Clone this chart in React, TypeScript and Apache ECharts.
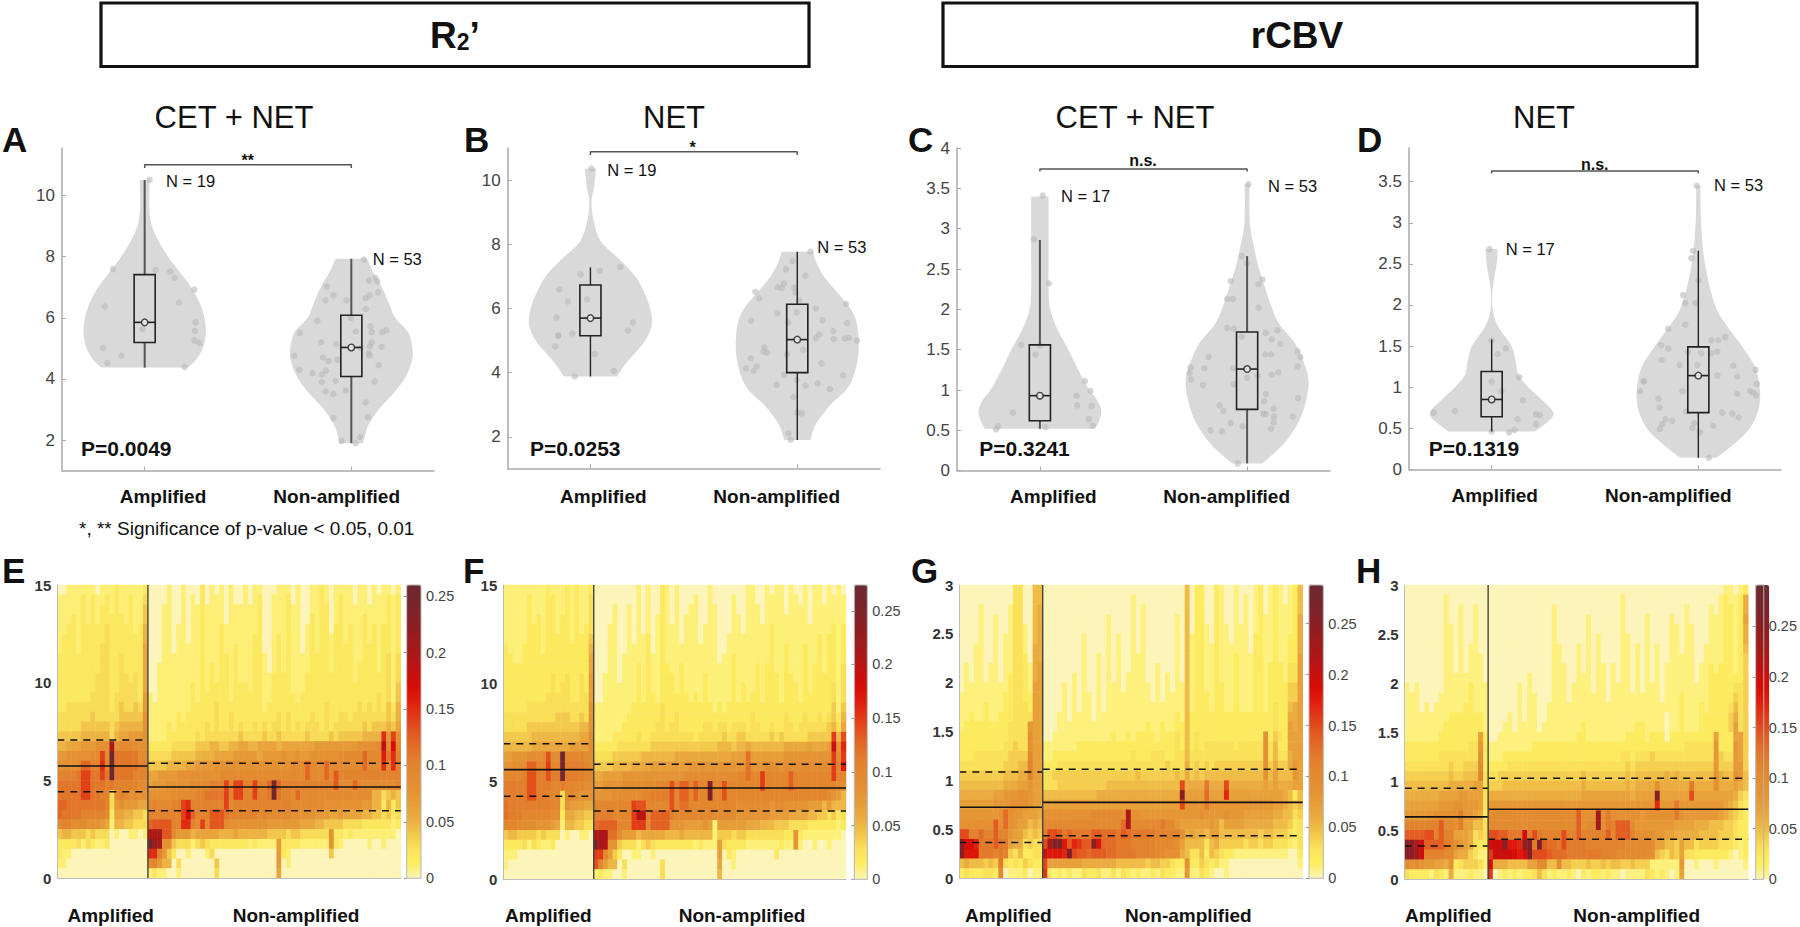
import React, { useEffect, useRef } from "react";
import * as echarts from "echarts";

const FONT = "'Liberation Sans', Arial, sans-serif";

// Group labels
const groupLabels = ["Amplified", "Non-amplified"];
const violinTitles = ["CET + NET", "NET", "CET + NET", "NET"];
const pValues = ["P=0.0049", "P=0.0253", "P=0.3241", "P=0.1319"];
const brackets = ["**", "*", "n.s.", "n.s."];
const nLabels = [["N = 19", "N = 53"], ["N = 19", "N = 53"], ["N = 17", "N = 53"], ["N = 17", "N = 53"]];

// Violin outlines: [value, half width in axis units]
const outlineAAmp = [[4.37,.209],[4.6,.245],[5,.281],[5.5,.296],[6,.289],[6.5,.265],[7,.225],[7.5,.169],[8,.113],[8.5,.068],[9,.035],[9.5,.023],[10,.022],[10.5,.024]];
const outlineANon = [[1.9,.056],[2.2,.068],[2.5,.084],[3,.132],[3.5,.2],[4,.257],[4.5,.289],[4.9,.297],[5.5,.277],[6,.212],[6.5,.18],[7,.148],[7.5,.105],[7.93,.076]];
const outlineBAmp = [[3.88,.129],[4.2,.161],[4.5,.2],[5,.265],[5.5,.297],[6,.289],[6.5,.26],[7,.217],[7.5,.145],[8,.061],[8.3,.035],[8.5,.024],[9,.008],[9.4,.006],[9.8,.018],[10.35,.027]];
const outlineBNon = [[1.9,.064],[2.2,.077],[2.5,.1],[3,.161],[3.5,.241],[4,.277],[4.7,.297],[5.5,.289],[6,.257],[6.5,.193],[7,.129],[7.5,.088],[7.77,.077]];
const outlineCAmp = [[.52,.265],[.6,.283],[.75,.296],[.9,.27],[1,.238],[1.25,.185],[1.5,.138],[1.75,.085],[2,.05],[2.25,.042],[2.75,.042],[3.4,.042]];
const outlineCNon = [[.09,.072],[.15,.1],[.3,.165],[.5,.225],[.75,.272],[1.1,.297],[1.4,.265],[1.6,.225],[1.8,.16],[2,.122],[2.5,.058],[2.75,.035],[3,.016],[3.25,.011],[3.55,.012]];
const outlineDAmp = [[.46,.209],[.6,.281],[.7,.297],[.85,.241],[1,.177],[1.15,.129],[1.3,.117],[1.5,.096],[1.7,.04],[1.85,.013],[2,.003],[2.2,.005],[2.5,.024],[2.68,.029]];
const outlineDNon = [[.14,.088],[.3,.169],[.5,.249],[.75,.293],[1,.297],[1.25,.273],[1.5,.21],[1.75,.137],[2,.08],[2.5,.032],[3,.013],[3.45,.01]];

// Patient points: [horizontal jitter, value]
const pointsAAmp = [[-.153,7.59],[.053,7.56],[.124,7.51],[.145,7.3],[.241,6.92],[.166,6.5],[-.193,6.37],[.246,5.85],[-.011,5.63],[.243,5.57],[.241,5.26],[.265,5.17],[-.201,5.01],[-.113,4.76],[-.18,4.52],[.193,4.39],[.024,10.51],[0,5.85]];
const pointsANon = [[.061,7.9],[.085,7.22],[.117,7.3],[.125,7.19],[-.119,7.02],[-.087,6.73],[-.125,6.57],[-.023,6.57],[.069,6.64],[.088,6.73],[.129,6.83],[.069,6.29],[-.164,5.9],[-.003,5.99],[.093,5.72],[.098,5.53],[.021,5.55],[-.248,5.5],[.15,5.53],[.17,5.59],[-.146,5.2],[-.072,5.14],[.098,5.19],[.09,5.06],[.045,5.01],[.146,5.05],[.085,4.84],[.088,4.77],[-.275,4.76],[-.137,4.7],[-.111,4.59],[-.068,4.63],[-.252,4.3],[-.188,4.19],[.133,4.45],[-.124,4.27],[-.143,4.14],[-.143,3.9],[-.076,3.94],[.113,3.92],[-.124,3.59],[-.087,3.51],[-.027,3.62],[.069,3.23],[-.087,2.72],[.08,2.75],[.042,2.1],[-.047,1.97],[.021,1.9]];
const pointsBAmp = [[.005,10.36],[-.048,7.06],[.045,7.17],[.145,7.29],[-.151,6.59],[-.016,6.28],[-.109,6.22],[-.164,5.72],[.206,5.56],[.182,5.31],[-.087,5.22],[-.156,5.16],[-.156,5.15],[-.17,4.82],[.021,4.58],[.113,4.05],[-.076,3.88],[0,5.7]];
const pointsBNon = [[.064,7.77],[-.023,7.48],[-.055,7.22],[.039,7.02],[-.064,6.78],[-.095,6.66],[-.076,6.64],[-.014,6.65],[-.008,6.5],[-.203,6.52],[-.185,6.32],[.008,6.26],[.235,6.14],[.09,6],[-.003,5.88],[-.096,5.85],[-.223,5.62],[-.043,5.56],[.122,5.63],[.241,5.54],[.174,5.29],[.106,5.19],[.09,5.07],[.177,5.05],[.23,5.06],[.251,5.08],[.289,5],[-.159,4.79],[-.162,4.65],[-.145,4.62],[-.05,4.57],[.029,4.71],[-.225,4.45],[-.196,4.19],[-.248,4.13],[-.212,4.05],[.117,4.29],[-.064,3.93],[.222,3.92],[-.003,3.77],[-.1,3.62],[.04,3.6],[.098,3.67],[.158,3.49],[-.019,3.24],[0,2.76],[.021,2.73],[-.043,2.11],[-.032,1.91]];
const pointsCAmp = [[.014,3.41],[-.029,2.87],[.043,2.32],[-.09,1.56],[0,1.55],[-.021,1.44],[.217,1.11],[.244,.99],[.177,.93],[.18,.81],[.249,.8],[-.13,.72],[.236,.64],[.255,.56],[.027,.54],[-.202,.55],[-.212,.51]];
const pointsCNon = [[.006,3.55],[-.026,2.66],[0,2.57],[.074,2.37],[-.079,2.35],[.055,2.31],[-.096,2.13],[-.069,2.13],[.056,2.02],[-.096,1.77],[-.064,1.76],[.09,1.71],[.146,1.74],[-.026,1.66],[.119,1.63],[.161,1.57],[.244,1.48],[-.186,1.41],[.087,1.44],[.116,1.44],[.257,1.41],[-.273,1.28],[-.207,1.27],[-.069,1.27],[.244,1.29],[-.278,1.21],[.151,1.22],[.119,1.19],[.051,1.18],[0,1.15],[-.27,1.13],[-.213,1.06],[-.064,1.07],[.09,.95],[.246,.9],[.082,.86],[-.133,.81],[-.114,.74],[.128,.77],[.079,.71],[.09,.7],[.13,.67],[.22,.67],[.128,.6],[-.079,.59],[-.022,.55],[-.177,.5],[-.122,.49],[.116,.52],[-.045,.09]];
const pointsDAmp = [[-.011,2.68],[0,1.57],[.029,1.4],[.069,1.47],[.133,1.12],[0,1.07],[.047,.95],[.151,.84],[-.281,.69],[-.178,.71],[.214,.67],[.232,.66],[.125,.61],[.215,.55],[.111,.48],[.085,.45],[0,.46]];
const pointsDNon = [[-.008,3.45],[-.026,2.66],[-.034,2.57],[0,2.3],[-.074,2.12],[-.064,2.02],[-.014,2.02],[-.063,1.76],[-.146,1.71],[.13,1.61],[.063,1.57],[.096,1.57],[-.18,1.51],[-.145,1.47],[-.05,1.43],[.014,1.41],[.063,1.41],[.092,1.43],[-.178,1.33],[-.09,1.27],[-.005,1.27],[.169,1.26],[.277,1.21],[.092,1.14],[.188,1.13],[-.265,1.07],[-.263,1.07],[.283,1.04],[-.281,.95],[-.077,.95],[.188,.92],[.251,.95],[.267,.93],[.28,.9],[-.193,.86],[-.188,.75],[-.058,.7],[.116,.69],[.164,.68],[.196,.63],[-.159,.61],[-.127,.59],[-.174,.55],[-.021,.56],[.072,.53],[-.029,.5],[-.186,.49],[.008,.45],[.051,.14]];

// Box statistics: [low whisker, q1, median, q3, high whisker]
const boxAAmp = [4.37, 5.19, 5.85, 7.41, 10.5];
const boxANon = [1.9, 4.08, 5.03, 6.08, 7.93];
const boxBAmp = [3.88, 5.15, 5.7, 6.73, 7.28];
const boxBNon = [1.9, 4.0, 5.03, 6.13, 7.77];
const boxCAmp = [.52, .62, .93, 1.56, 2.86];
const boxCNon = [.09, .76, 1.26, 1.72, 2.66];
const boxDAmp = [.46, .64, .85, 1.19, 1.58];
const boxDNon = [.14, .69, 1.14, 1.49, 2.66];

// Axis ticks
const ticksA = [2, 4, 6, 8, 10];
const ticksC = [0, .5, 1, 1.5, 2, 2.5, 3, 3.5, 4];
const ticksD = [0, .5, 1, 1.5, 2, 2.5, 3, 3.5];
const ticksHeatR2 = [0, 5, 10, 15];
const ticksHeatCBV = [0, .5, 1, 1.5, 2, 2.5, 3];
const ticksColorbar = [0, .05, .1, .15, .2, .25];
const colorbarMax = [.26, .274, .288, .291];
const bracketLevels = [11.0, 10.88, 3.74, 3.63];
const bracketDrop = [.1, .1, .03, .03];

// Reference lines of the heat maps: [q3, median, q1] for each group
const linesE = [[7.07, 5.74, 4.43], [5.88, 4.67, 3.46]];
const linesF = [[6.91, 5.59, 4.23], [5.86, 4.65, 3.48]];
const linesG = [[1.088, .726, .365], [1.115, .777, .436]];
const linesH = [[.929, .636, .34], [1.03, .714, .408]];

const heatColors = ["#fcf4b8","#fdee62","#fae35a","#f3c84c","#ebae41","#e79e39","#e49234","#e38a30","#e2802d","#e26c27","#e2561f","#e13a17","#e0200e","#da0c06","#c61010","#b01616","#a01a1c","#8e1e22","#802228","#74262c","#6c2a30"];

// Heat map cells, top row first; each character is the value x 100 in base 36.
const heatE = [
"0011111101112111112 0000100100 0201010100 1011000111 0100112101 1110110101101",
"1111121211212112113 0000100101 0201110100 1012001112 0100112101 2110110111212",
"1111121212212112114 0001100101 1211110111 1112001112 1100112201 2111111111212",
"1112121212222212114 0001100101 1211110111 1112001112 1100212201 2111121111212",
"1122122222322222125 0001101101 1211121111 1112001112 1101212202 2121121212212",
"1222122222322222225 0001101101 1211121111 1122001212 1101212212 2121121212212",
"1222122223322222226 0001101111 1211121121 1122001212 1101212212 2221122212212",
"2222222223322322226 0001111111 1211122121 1122101212 1111222212 2221122212313",
"2222222223322322226 0011111111 1212122121 1122101212 1111222212 2221222212313",
"2222222233322332326 0011111111 1212122121 1122112222 1112222222 2221222222313",
"2222222233322333326 0011111112 1212222122 2122112222 1112222222 2222222222314",
"2222222333323333327 1011111112 1222222122 2222112222 2122222222 2222222232314",
"2233333333323433437 1111111112 2222322222 2222122222 2222222322 2222323232425",
"3333333433333444448 1111112122 2222322322 2222222323 2222322322 3323333333435",
"3333344444434555558 1111212222 2232322323 2232323323 2323332323 3333343444546",
"4444455555535667778 1111222222 3233333334 3333433433 3334333343 444445555f7e8",
"55666777888k8999988 2222233333 4445544556 6556666566 6666677777 777788889j9h9",
"778888899e9pbbbbb99 3333344444 5555666677 7776777787 7877888888 99999c999gbfa",
"88889ccaafaqbbbbbaa 4444555566 7777888888 8888888888 999c999c99 99999c999f9fa",
"aaaabeebbebqbbbbaaa 6677778888 8888899999 9999999999 999c999c9d aaaaaaaaaaaaa",
"bbbbbeebbbabaaaaa99 6777888889 999aaaeaee aaeaacpcaa aaaaaaaaad 999c99999999a",
"bbbbbeebbaa39a98988 8888899999 aabbbbeaee aaeaabpbaa 9c99999999 9998999553454",
"ccbbbbbbbba37877766 9a999aaefa aaaaaae9aa aaaaaaaaaa 9999999888 8888877552524",
"cbbbbaaaaa926655443 aaaaaaaehc aaadddbaaa aaa9a99999 8888877766 7666655443423",
"9aa99988876155443 33 cddddaaffa 9e9ddd9888 8888877777 7766655444 4333322222212",
"45544434333 01001101 jkkdd97775 6666655565 5555544443 4433333382 2121111111110",
"22223132112 00000000 plk8843331 3432222222 2121111722 2211111182 1000001001000",
"2110000000000000000 ffa7420010 0013000000 0000000721 0000000040 0000000000000",
"1100000000000000000 9a75503000 0000400000 0000000701 0000000000 0000000000000",
"0000000000000000000 1211001000 0000300000 0000000600 0000000000 0000000000000",
];
const heatF = [
"1111111112 111212112 0000000001 0100210100 0000100000 0011001011 0100101101010",
"1111121112 211212113 0000000001 0100210100 0100100001 0011001111 0110101101111",
"1111121112 211212113 0000100101 0100210100 1100110001 0011101111 0111101111111",
"1111121212 212212113 0000100101 0101210101 1100110001 1011101111 1111101111111",
"1111122212 212212123 0001100101 0101211101 1101110001 1011111211 1111111111212",
"1111122212 222212224 0001100101 1201211101 1101110011 1111111211 1111111212212",
"2111222212 222222225 0001100111 1201211111 1111110011 1111111211 2111211212212",
"2211222222 222222226 0001101111 1211211111 1111110112 1111111211 2111211212212",
"2222222222 222222226 0001101112 1211221121 1111111112 1111212211 2111212212213",
"2222222222 322322327 0011101112 1211222121 1112111112 1111212221 2211212222213",
"2222222222 323322327 0011111112 1211222121 1112111112 1211212221 2221212222313",
"2222222223 333322337 0011111112 1221222222 1212111112 1212212221 2221222222313",
"2222233333 333333338 1111111122 2222322222 2222212122 2222222222 2222222222414",
"3333333333 344433438 1111111222 2222322322 2222222222 2223222222 3222322323425",
"3333344444 444444558 1111112222 2223323322 2223323323 3323322322 3323333334536",
"4444445555 555555669 1111222223 2233333333 3233333433 4433333434 3333344444f5e",
"5555556666 666677779 2222233333 3344444444 4444445554 5565555555 6666676667j8g",
"778889999e99qaaaa99 3333444444 5555555666 6666666667 77c7777777 8888888888f9f",
"88999ddaafaaqbbbba9 4444555566 6677777777 8888888888 88c8889998 9999999999fah",
"aaaabeebbebbqbbbbaa 6677778888 8888888889 9999999999 aacaafaaaa adaaaaaaaafaa",
"bbbbbeebbbaabaaaa99 7788889999 999aaaeadd adaapaaeaa aaaaafaaaa adaaaaaaaaa99",
"bbbbbeebbaaa39a9888 8888999999 aabbbbeadd adaapaaeaa aaaaaaaaaa aaaaaaaaa9875",
"cbbbbbbbbbaa3877766 aaaaaaaafe eaaaaaeacc aaaaaaaaaa 9999999899 8888877757555",
"cbbbaaaaaa992665544 bbbbaaaafk kaddddbaaa aaa9a99999 8888888777 7666655443423",
"aaa999988876155 4433 cddddaaaff f9dddd8887 7778717777 7766655544 4333322222212",
"455444434333 0100110 kllcc97775 6666655565 5555514443 4433333333 2282111111110",
"2222313211 200000000 plk8843331 3432222222 2121117322 2211111112 1181001001000",
"1110000000 000000000 ffa7420011 0010000000 0000007021 0000000020 0000000000000",
"1000000000 000000000 ea75503000 0000300000 0000006001 0000000000 0000000000000",
"0000000000 000000000 1211001000 0000300000 0000005000 0000000000 0000000000000",
];
const heatG = [
"0000000000 0330055 0000000000 0000000000 0000000005 0220021001 0001201210125",
"0000000000 0330055 0000000000 0000000010 0000000005 0220021001 0101201210125",
"0000100000 1330056 0000000000 0000000010 1000000005 0220021001 0101201211125",
"0000100100 1330056 0000000000 0001000010 1000000105 0220021001 0101211211126",
"0000100100 1331056 0000000000 0001000010 1000000105 0221021101 1101211211126",
"0000100101 1331056 0000000010 0001010010 1000000105 1221021101 1102211211226",
"0001100101 1331066 0000000010 0001010010 1000000105 1221121111 1102211211226",
"0001100101 1332066 0000000010 0101010011 1000000105 1221121112 1112211211227",
"0101101101 1332167 0000000010 0101010011 1001000105 1221121112 1112212221337",
"0101101101 2332167 0000001010 0101010111 1001010105 1221121112 1112212221337",
"0111111111 2332177 0000101010 0101110111 1101010115 1221122112 1112212222447",
"1111111112 2332277 0000101011 0101111111 1101011115 1222122112 1112212222447",
"1111121112 2333277 0000101011 0101111111 1111111115 1222122112 1112212322567",
"1121121122 2333377 0001101111 0111111111 1111111215 2222222222 2222222322667",
"1222222222 3333877 0001111111 1111111111 1211211225 2222222222 2222222322767",
"2222222222 3333977 0011111111 1111211212 2221222325 2322222222 2222292432777",
"2222222223 3433977 1111111222 2222222222 2222222325 2323333332 3333393522777",
"2223333333 4444a77 1122222222 2222222232 2233322335 3333333333 3333393533677",
"3333333334 4455b77 2223333333 3333333333 3333343336 3434344444 4444494644687",
"4444444445 5566b77 3344444444 4444444445 4444444546 4545555555 5555595755587",
"5555555556 6677877 3334444444 4445555555 55555555f6 666c666f66 6666676766677",
"6666666778 8899877 5555555555 5666666666 66666666p7 777d777h77 7777777776525",
"7777777888 9999877 7777777777 7777777777 77777777f8 888c888888 8888888776545",
"888888889d 9887776 9999999999 aaaaaa9m99 8888888888 8898888988 8777777665534",
"9999999e9d 9877565 aaaaaaaaaa aaaaaadmaa aaaacaa877 7777875777 7666666555423",
"ffbbdbbebb 8775454 cffecdcccc eedddcedcc cccbbbbb96 7665775555 5555455444323",
"pjjhcccecc 7663433 fmqqiehgee pidddcccbb bbbaaaa975 5553564444 4344344333213",
"piiicccbcb 4352233 kiiihqfeed eeeddccccb bbbaa99965 3352543221 1111111111002",
"5655545 4c3 2324322 f777777766 6666655555 5455443229 2243231100 0000000000001",
"23222332a0 1112011 g212121132 2311313212 1121322118 1132100100 0000000000000",
];
const heatH = [
"0000000000 0000000 0000000000 0000000000 0000000000 0000000000 0000000011012",
"0000000010 0000000 0000000000 0000000000 0000000100 0000000000 0000000121126",
"0000000010 0100100 0000000000 0001000000 0000000100 0000000000 1000010122126",
"0000000010 0100100 0000000000 0001000000 1000000100 0010000100 1000011122127",
"0000000011 0100100 0000000000 0001000000 1000000100 0010000110 1100011122126",
"0000000011 0100100 0000000000 0001000000 1010000110 0010000110 1100011122126",
"0000000011 0101100 0000000000 0001100010 1010000110 1010100110 1100111122125",
"0000000011 0101110 0000000000 0001100010 1010000110 1010100111 1100111122124",
"0000000011 0101110 0000000000 0001110010 1011010110 1010101111 1101121222124",
"0000000011 1111110 0000000010 0001110011 1011010110 1010101111 1101122222224",
"1010000011 1112111 0000001010 0001110111 1011011110 1011101111 1111122222334",
"1110000111 1112111 0000001011 0001110111 1111011111 1111101112 1111122222434",
"1110101111 1122111 0000001011 0011111111 1111111111 1111111112 1112122223534",
"1111111112 2222221 0000101011 0011111111 1111111111 1111110112 1112222224634",
"1111111122 2222221 0001101111 0111111112 1111111111 2211110112 1112222224734",
"1111111222 2222272 0011111111 1111111122 1111111122 2212220222 2222227222774",
"2222222222 2223382 1111111112 2222222222 2222222222 2222222222 3333338222874",
"2222222333 3333392 1112222222 2222222222 2222222332 3334333333 3333338433874",
"3333333334 33444a2 2222333333 3333333333 3333333343 4444444444 4444448444884",
"4444444445 44555b3 3344444444 4444444445 4444444454 5555556565 5555559655985",
"5555555556 6666773 4445555555 5555555556 5555555565 6666966666 6c66669666765",
"6666666777 7887773 6666666666 6666666667 7777777776 7777q77777 7f77777777643",
"7777777888 9988873 8888888888 8888888888 8888888888 8888h888c8 8888888876532",
"8888889999 9c88762 aaaaaaaaaa aaaaaaaae9 99n9c99999 98999999c9 8888888765432",
"bbbbbbbeaa 9c77553 aaaaaaaaaa aaaaaaaae9 aan9cbeeea 8888888877 7766655544322",
"eeeeffbebb 7776343 ffeeccckcf cbbbbfbbeb bbbbeaeeeb 9999887766 6665555444322",
"ppmkeeeecb 9876322 jkkqiihoqc qeddcfcccc bbbbbbbbaa aaaa775547 5534444333212",
"ppnkbbbbaa 7664311 gkkkkjijqf ffedddcccc cccbbbaaaa aaa9543547 3322222221012",
"a9a9887769 2344431 j666555577 aa55a55444 5445455445 4441111118 0010001000001",
"3222213216 1112110 g012121223 5312112102 1221211011 1132121017 0000000000000",
];

const AXIS_GREY = "#a9a9a9";
const VIOLIN_FILL = "#d9d9d9";
const DOT = "rgba(185,185,185,0.75)";
const BOX_HALF = 0.051;

type V = {
  grid: number[]; yMin: number; yMax: number; ticks: number[]; outlines: number[][][];
  points: number[][][]; boxes: number[][]; whisker: string; whiskerW: number;
};

const violinPanels: V[] = [
  { grid: [62, 148, 372, 322.7], yMin: 1, yMax: 11.55, ticks: ticksA, outlines: [outlineAAmp, outlineANon], points: [pointsAAmp, pointsANon], boxes: [boxAAmp, boxANon], whisker: "#555", whiskerW: 2 },
  { grid: [507.7, 148, 372.3, 320.3], yMin: 1.02, yMax: 11, ticks: ticksA, outlines: [outlineBAmp, outlineBNon], points: [pointsBAmp, pointsBNon], boxes: [boxBAmp, boxBNon], whisker: "#222", whiskerW: 1.4 },
  { grid: [957, 148, 373, 322.7], yMin: 0, yMax: 4, ticks: ticksC, outlines: [outlineCAmp, outlineCNon], points: [pointsCAmp, pointsCNon], boxes: [boxCAmp, boxCNon], whisker: "#555", whiskerW: 2 },
  { grid: [1409, 148, 372, 321.3], yMin: 0, yMax: 3.91, ticks: ticksD, outlines: [outlineDAmp, outlineDNon], points: [pointsDAmp, pointsDNon], boxes: [boxDAmp, boxDNon], whisker: "#222", whiskerW: 1.4 },
];

const heatPanels = [
  { grid: [57.3, 585, 343.4, 293.3], bar: [406.7, 14.3], rows: heatE, split: 19, cols: 72, yMax: 15, ticks: ticksHeatR2, lines: linesE },
  { grid: [503.3, 585, 342.7, 294.3], bar: [854.3, 13], rows: heatF, split: 19, cols: 72, yMax: 15, ticks: ticksHeatR2, lines: linesF },
  { grid: [959.3, 585, 343.4, 293.3], bar: [1309, 14.3], rows: heatG, split: 17, cols: 70, yMax: 3, ticks: ticksHeatCBV, lines: linesG },
  { grid: [1404.7, 585, 343.6, 294.3], bar: [1755.7, 13.6], rows: heatH, split: 17, cols: 70, yMax: 3, ticks: ticksHeatCBV, lines: linesH },
];

const textAt = (text: string, x: number, y: number, size: number, opts: any = {}) => ({
  type: "text", x, y, silent: true, z: 20,
  style: { text, fontFamily: FONT, fontSize: size, fontWeight: opts.weight || "normal", fill: opts.fill || "#111", align: opts.align || "center", verticalAlign: "middle" },
});

// Rounds one side of a violin on screen, leaving its flat ends sharp.
function roundSide(pts: number[][]) {
  const out: number[][] = [];
  for (let i = 0; i < pts.length - 1; i++) {
    const p0 = pts[Math.max(0, i - 1)], p1 = pts[i], p2 = pts[i + 1], p3 = pts[Math.min(pts.length - 1, i + 2)];
    for (let s = 0; s < 6; s++) {
      const t = s / 6, t2 = t * t, t3 = t2 * t;
      out.push([0, 1].map((d) => 0.5 * (2 * p1[d] + (p2[d] - p0[d]) * t + (2 * p0[d] - 5 * p1[d] + 4 * p2[d] - p3[d]) * t2 + (3 * p1[d] - p0[d] - 3 * p2[d] + p3[d]) * t3)));
    }
  }
  out.push(pts[pts.length - 1]);
  return out;
}

function buildOption() {
  const grid: any[] = [], xAxis: any[] = [], yAxis: any[] = [], series: any[] = [], visualMap: any[] = [];

  violinPanels.forEach((p, i) => {
    const g = grid.length, xi = xAxis.length, yi = yAxis.length;
    grid.push({ left: p.grid[0], top: p.grid[1], width: p.grid[2], height: p.grid[3], containLabel: false });
    const line = { show: true, lineStyle: { color: AXIS_GREY, width: 1.5 } };
    xAxis.push({ type: "value", gridIndex: g, min: 0.6, max: 2.4, position: "bottom", splitLine: { show: false }, axisLine: line,
      axisTick: { show: true, inside: true, length: 4, customValues: [1, 2], lineStyle: { color: AXIS_GREY } }, axisLabel: { show: false } });
    yAxis.push({ type: "value", gridIndex: g, min: p.yMin, max: p.yMax, position: "left", splitLine: { show: false }, axisLine: line,
      axisTick: { show: true, inside: true, length: 4, customValues: p.ticks, lineStyle: { color: AXIS_GREY } },
      axisLabel: { show: true, customValues: p.ticks, fontFamily: FONT, fontSize: 17, color: "#444", margin: 7 } });
    [0, 1].forEach((k) => {
      const center = k + 1;
      const outline = p.outlines[k];
      const box = p.boxes[k];
      series.push({
        type: "custom", coordinateSystem: "cartesian2d", xAxisIndex: xi, yAxisIndex: yi, silent: true, clip: false, z: 1,
        data: [[center, outline[0][0]]],
        renderItem: (_: any, api: any) => {
          const left = roundSide(outline.map(([y, w]) => api.coord([center - w, y])));
          const right = roundSide(outline.map(([y, w]) => api.coord([center + w, y]))).reverse();
          return { type: "polygon", shape: { points: [...left, ...right] }, style: { fill: VIOLIN_FILL } };
        },
      });
      series.push({
        type: "scatter", xAxisIndex: xi, yAxisIndex: yi, silent: true, z: 2, symbolSize: 6.5, clip: false,
        data: p.points[k].map(([dx, y]) => [center + dx, y]), itemStyle: { color: DOT },
      });
      series.push({
        type: "custom", coordinateSystem: "cartesian2d", xAxisIndex: xi, yAxisIndex: yi, silent: true, clip: false, z: 3,
        data: [[center, box[2]]],
        renderItem: (_: any, api: any) => {
          const [lo, q1, med, q3, hi] = box;
          const c = (x: number, y: number) => api.coord([x, y]);
          const seg = (a: number[], b: number[], color: string, lineWidth: number) => ({ type: "line", shape: { x1: a[0], y1: a[1], x2: b[0], y2: b[1] }, style: { stroke: color, lineWidth } });
          const tl = c(center - BOX_HALF, q3), br = c(center + BOX_HALF, q1);
          return { type: "group", children: [
            seg(c(center, lo), c(center, q1), p.whisker, p.whiskerW),
            seg(c(center, q3), c(center, hi), p.whisker, p.whiskerW),
            { type: "rect", shape: { x: tl[0], y: tl[1], width: br[0] - tl[0], height: br[1] - tl[1] }, style: { fill: "none", stroke: "#222", lineWidth: 1.6 } },
            seg(c(center - BOX_HALF, med), c(center + BOX_HALF, med), "#222", 1.6),
          ] };
        },
      });
      series.push({
        type: "scatter", xAxisIndex: xi, yAxisIndex: yi, silent: true, z: 4, symbolSize: 6.5,
        data: [[center, box[2]]], itemStyle: { color: "#fff", borderColor: "#222", borderWidth: 1.5 },
      });
    });
    const lvl = bracketLevels[i], drop = bracketDrop[i];
    series.push({
      type: "line", xAxisIndex: xi, yAxisIndex: yi, silent: true, z: 5, symbol: "none", clip: false,
      data: [[1, lvl - drop], [1, lvl], [2, lvl], [2, lvl - drop]], lineStyle: { color: "#555", width: 1.5 },
    });
  });

  heatPanels.forEach((p, i) => {
    const g = grid.length;
    const xCat = xAxis.length, yCat = yAxis.length;
    grid.push({ left: p.grid[0], top: p.grid[1], width: p.grid[2], height: p.grid[3], containLabel: false });
    const nRows = p.rows.length;
    xAxis.push({ type: "category", gridIndex: g, show: false, position: "bottom", data: Array.from({ length: p.cols }, (_, c) => String(c)) });
    yAxis.push({ type: "category", gridIndex: g, show: false, position: "left", data: Array.from({ length: nRows }, (_, r) => String(r)) });
    const border = { show: true, lineStyle: { color: "#bdbdbd", width: 1 } };
    xAxis.push({ type: "value", gridIndex: g, position: "bottom", min: 0, max: p.cols, splitLine: { show: false }, axisLine: border, axisTick: { show: false }, axisLabel: { show: false }, z: 6 });
    yAxis.push({ type: "value", gridIndex: g, position: "left", min: 0, max: p.yMax, splitLine: { show: false }, axisLine: border, axisTick: { show: false },
      axisLabel: { show: true, customValues: p.ticks, fontFamily: FONT, fontSize: 15, fontWeight: "bold", color: "#333", margin: 6 }, z: 6 });

    const cells: number[][] = [];
    p.rows.forEach((row, rowIdx) => {
      const chars = row.replace(/\s/g, "");
      for (let c = 0; c < p.cols; c++) {
        const ch = chars[c] ?? "0";
        cells.push([c, nRows - 1 - rowIdx, parseInt(ch, 36) / 100]);
      }
    });
    const sIdx = series.length;
    series.push({ type: "heatmap", xAxisIndex: xCat, yAxisIndex: yCat, silent: true, progressive: 0, z: 2, data: cells, itemStyle: { borderWidth: 0 } });
    visualMap.push({
      type: "continuous", seriesIndex: sIdx, dimension: 2, min: 0, max: colorbarMax[i], show: true, calculable: false, hoverLink: false, realtime: false,
      left: p.bar[0], top: p.grid[1], itemWidth: p.bar[1], itemHeight: p.grid[3], padding: 0, inRange: { color: heatColors },
    });

    const xV = xCat + 1, yV = yCat + 1;
    const addLine = (a: number, b: number, y: number, dashed: boolean) => series.push({
      type: "line", xAxisIndex: xV, yAxisIndex: yV, silent: true, z: 5, symbol: "none",
      data: [[a, y], [b, y]], lineStyle: { color: "#111", width: dashed ? 1.5 : 1.6, type: dashed ? [7, 6] : "solid" },
    });
    [[0, p.split], [p.split, p.cols]].forEach(([a, b], k) => {
      const [hi, med, lo] = p.lines[k];
      addLine(a, b, hi, true); addLine(a, b, med, false); addLine(a, b, lo, true);
    });
    series.push({ type: "line", xAxisIndex: xV, yAxisIndex: yV, silent: true, z: 5, symbol: "none",
      data: [[p.split, 0], [p.split, p.yMax]], lineStyle: { color: "#444", width: 1.4 } });

    // Colour bar scale
    const gb = grid.length;
    grid.push({ left: p.bar[0], top: p.grid[1], width: p.bar[1], height: p.grid[3], containLabel: false, show: true, borderColor: "#b5b5b5", borderWidth: 1, backgroundColor: "transparent", z: 6 });
    xAxis.push({ type: "value", gridIndex: gb, show: false, min: 0, max: 1 });
    yAxis.push({ type: "value", gridIndex: gb, position: "right", min: 0, max: colorbarMax[i], splitLine: { show: false }, z: 6,
      axisLine: { show: false },
      axisTick: { show: true, inside: true, length: 3, customValues: ticksColorbar, lineStyle: { color: "#999" } },
      axisLabel: { show: true, customValues: ticksColorbar, fontFamily: FONT, fontSize: 14.5, color: "#444", margin: 5, formatter: (v: number) => String(v) } });
  });

  const BOLD = { weight: "bold" };
  const graphic: any[] = [
    { type: "rect", shape: { x: 101, y: 3, width: 708, height: 63.5 }, style: { fill: "#fff", stroke: "#111", lineWidth: 3.2 }, silent: true },
    { type: "rect", shape: { x: 943, y: 3, width: 754, height: 63.5 }, style: { fill: "#fff", stroke: "#111", lineWidth: 3.2 }, silent: true },
    { type: "text", x: 455, y: 35, silent: true, z: 20, style: {
      text: "{a|R}{b|2}{a|’}", align: "center", verticalAlign: "middle",
      rich: { a: { fontFamily: FONT, fontSize: 37, fontWeight: "bold", fill: "#111" }, b: { fontFamily: FONT, fontSize: 23, fontWeight: "bold", fill: "#111", padding: [14, 0, 0, 0] } },
    } },
    textAt("rCBV", 1297, 35, 37, BOLD),
    textAt("*, ** Significance of p-value < 0.05, 0.01", 79, 528, 19, { align: "left" }),
  ];
  const titleX = [234, 674, 1135, 1544];
  const letterX = [2, 464, 908, 1357];
  const pX = [81, 530, 979.3, 1428.7];
  const ampX = [163, 603.3, 1053.3, 1494.7];
  const nonX = [336.7, 776.7, 1226.7, 1668.3];
  const catY = [496.7, 496.7, 496.7, 495.7];
  const starX = [247.7, 692.7, 1143, 1594.7];
  const starY = [160, 147, 160, 164];
  const nPos = [[166, 180.7, 372.7, 259], [607.3, 170, 817.3, 246.7], [1061, 196, 1268, 185.7], [1505.7, 248.7, 1714, 185]];
  ["A", "B", "C", "D"].forEach((l, i) => {
    graphic.push(textAt(l, letterX[i], 139, 35, { weight: "bold", align: "left" }));
    graphic.push(textAt(violinTitles[i], titleX[i], 117, 31));
    graphic.push(textAt(pValues[i], pX[i], 448, 21, { weight: "bold", align: "left" }));
    graphic.push(textAt(groupLabels[0], ampX[i], catY[i], 19, BOLD));
    graphic.push(textAt(groupLabels[1], nonX[i], catY[i], 19, BOLD));
    graphic.push(textAt(brackets[i], starX[i], starY[i], 16, BOLD));
    graphic.push(textAt(nLabels[i][0], nPos[i][0], nPos[i][1], 16.5, { align: "left" }));
    graphic.push(textAt(nLabels[i][1], nPos[i][2], nPos[i][3], 16.5, { align: "left" }));
  });
  const hLetterX = [2, 463, 911, 1356];
  const hAmpX = [110.7, 548.3, 1008.3, 1448.3];
  const hNonX = [296, 742, 1188.3, 1636.7];
  ["E", "F", "G", "H"].forEach((l, i) => {
    graphic.push(textAt(l, hLetterX[i], 570, 35, { weight: "bold", align: "left" }));
    graphic.push(textAt(groupLabels[0], hAmpX[i], 915.7, 19, BOLD));
    graphic.push(textAt(groupLabels[1], hNonX[i], 915.7, 19, BOLD));
  });

  return { animation: false, backgroundColor: "#fff", grid, xAxis, yAxis, series, visualMap, graphic, tooltip: { show: false } };
}

export default function App() {
  const ref = useRef<HTMLDivElement>(null);
  useEffect(() => {
    document.body.style.margin = "0";
    const chart = echarts.init(ref.current!, undefined, { renderer: "svg" });
    chart.setOption(buildOption() as any);
    return () => chart.dispose();
  }, []);
  return <div ref={ref} style={{ width: 1800, height: 927 }} />;
}
